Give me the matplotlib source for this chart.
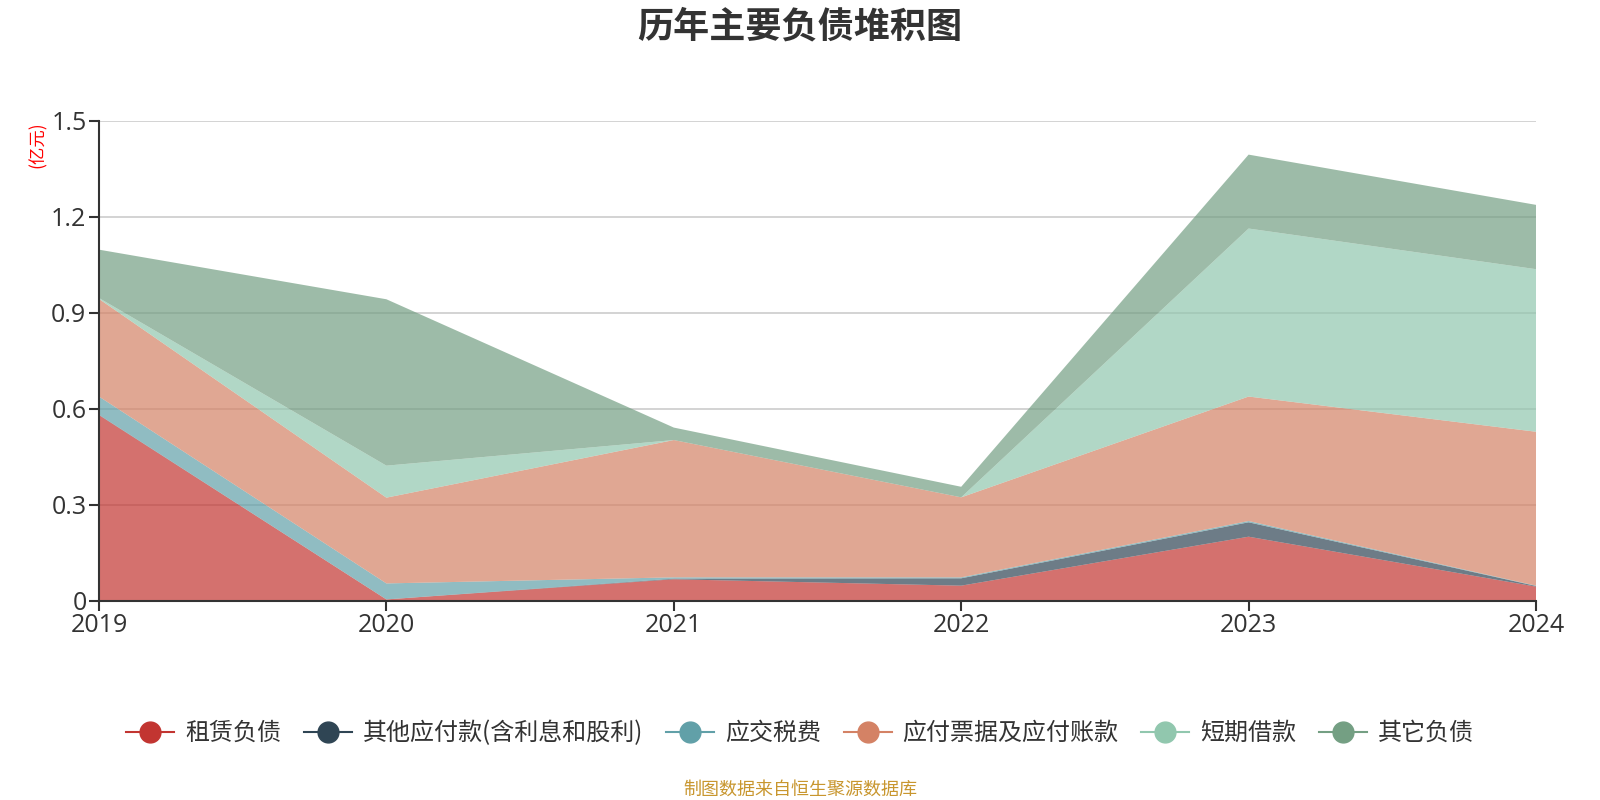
import matplotlib
matplotlib.use("Agg")
import matplotlib.pyplot as plt
from matplotlib.lines import Line2D
import numpy as np

plt.rcParams['font.family'] = ['Noto Sans CJK SC', 'DejaVu Sans']

years = [2019, 2020, 2021, 2022, 2023, 2024]
series_names = ["租赁负债", "其他应付款(含利息和股利)", "应交税费", "应付票据及应付账款", "短期借款", "其它负债"]
lease = [0.580, 0.004, 0.067, 0.047, 0.200, 0.044]
other_payables = [0.001, 0.000, 0.002, 0.023, 0.045, 0.002]
taxes = [0.057, 0.050, 0.004, 0.003, 0.004, 0.001]
notes_accounts = [0.305, 0.268, 0.429, 0.250, 0.389, 0.481]
short_loans = [0.003, 0.100, 0.000, 0.000, 0.525, 0.508]
other_liab = [0.151, 0.520, 0.039, 0.033, 0.231, 0.201]
colors = ["#c23531", "#2f4554", "#61a0a8", "#d48265", "#91c7ae", "#749f83"]

fig = plt.figure(figsize=(16, 8), dpi=100)
ax = fig.add_axes([99 / 1600, 1 - 600.7 / 800, (1536 - 99) / 1600, 480 / 800])

ax.stackplot(years, lease, other_payables, taxes, notes_accounts, short_loans, other_liab,
             colors=colors, alpha=0.7, linewidth=0, zorder=2)

ax.set_xlim(2019, 2024)
ax.set_ylim(0, 1.5)
ax.set_xticks(years)
ax.set_xticklabels([str(y) for y in years])
yt = [0, 0.3, 0.6, 0.9, 1.2, 1.5]
ax.set_yticks(yt)
ax.set_yticklabels(["0", "0.3", "0.6", "0.9", "1.2", "1.5"])
ax.grid(axis="y", color="#cccccc", linewidth=1.2, zorder=1)
ax.set_axisbelow(True)
for s in ["top", "right"]:
    ax.spines[s].set_visible(False)
for s in ["left", "bottom"]:
    ax.spines[s].set_color("#333333")
    ax.spines[s].set_linewidth(1.5)
    ax.spines[s].set_zorder(3)
ax.tick_params(axis="both", colors="#333333", labelcolor="#333333", labelsize=18,
               length=7, width=1.5)
ax.tick_params(axis="x", pad=2)
ax.tick_params(axis="y", pad=2)
for lab in ax.get_xticklabels() + ax.get_yticklabels():
    lab.set_fontfamily(["Open Sans", "DejaVu Sans"])

fig.text(0.5, 1 - 27 / 800, "历年主要负债堆积图", ha="center", va="center",
         fontsize=26, fontweight="bold", color="#333333")
fig.text(38 / 1600, 1 - 145 / 800, "(亿元)", rotation=90, ha="center", va="center",
         fontsize=12.5, color="red")
fig.text(0.5, 1 - 790 / 800, "制图数据来自恒生聚源数据库", ha="center", va="center",
         fontsize=13, color="#c8962e")

handles = [Line2D([0], [0], color=c, lw=1.5, marker="o", markersize=15) for c in colors]
fig.legend(handles, series_names, loc="center", bbox_to_anchor=(0.5, 1 - 733 / 800),
           ncol=6, frameon=False, fontsize=17.3, handlelength=2.0, handletextpad=0.45,
           columnspacing=0.95, labelcolor="#333333")

fig.savefig("out.png", dpi=100)
